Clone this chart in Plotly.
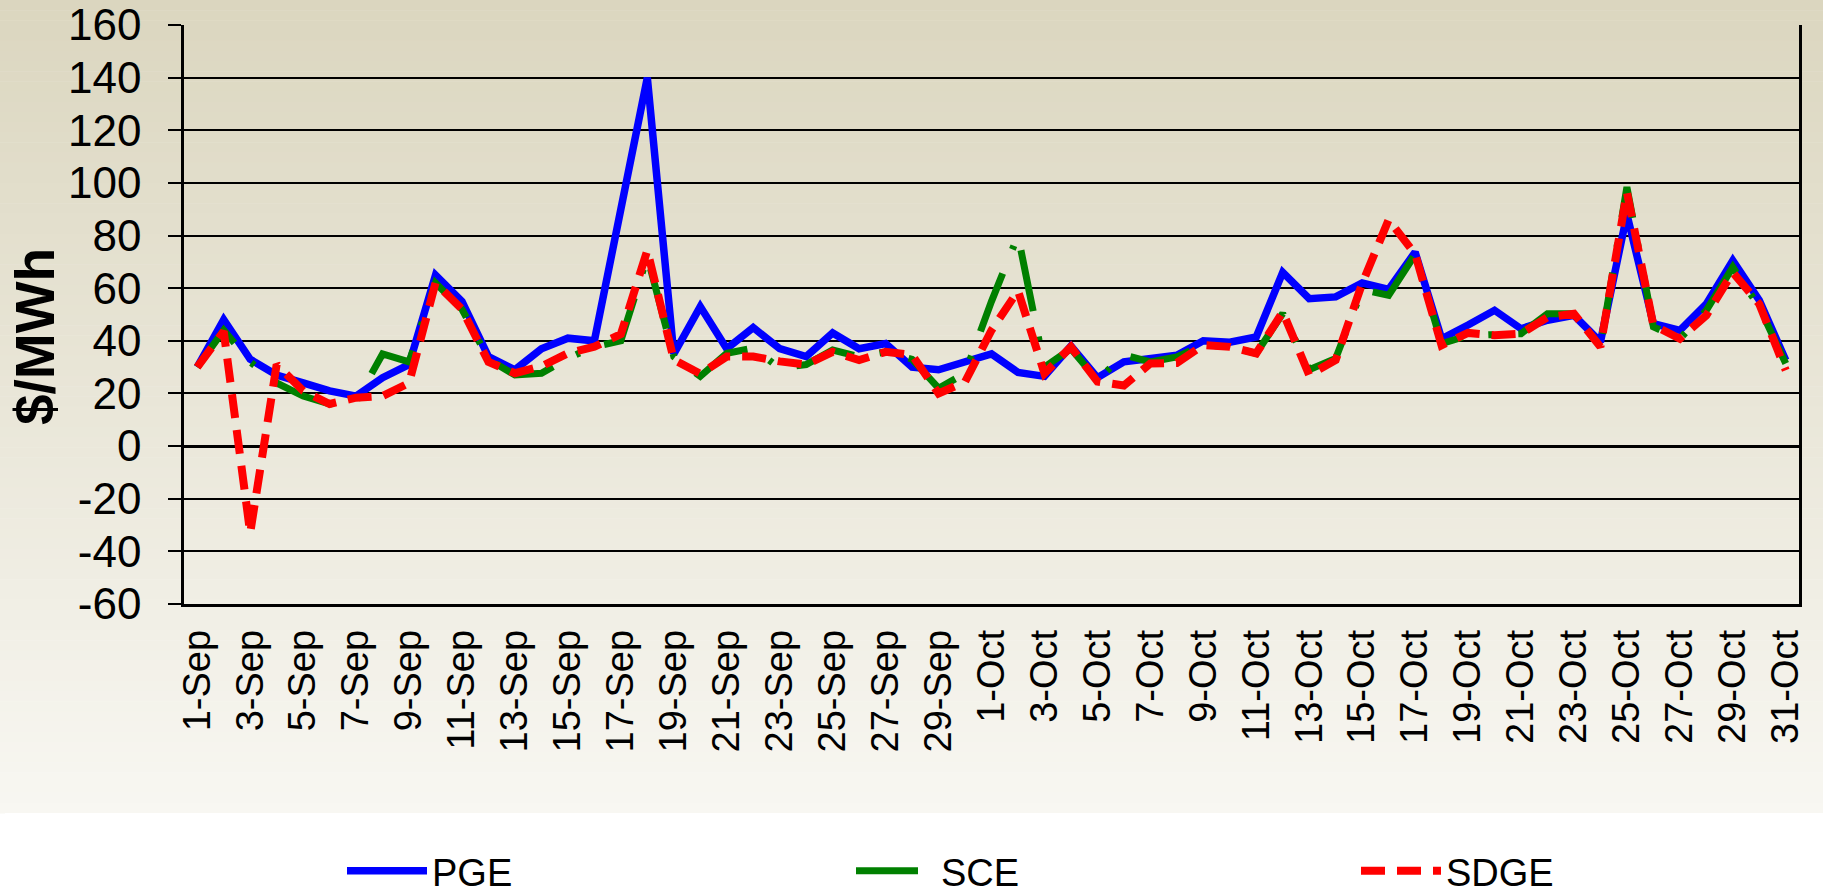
import plotly.graph_objects as go

# ---- data ----
sep_days = [f"{d}-Sep" for d in range(1, 31)]
oct_days = [f"{d}-Oct" for d in range(1, 32)]
categories = sep_days + oct_days

pge = [30, 48, 33, 27, 24, 21, 19, 26, 31, 65, 55, 34, 29, 37, 41, 40, 90, 140, 35, 53,
       37, 45, 37, 34, 43, 37, 39, 30, 29, 32,
       35, 28, 26.5, 38, 26, 32, 33, 34.5, 40, 39.5, 41.5, 66, 56, 56.7, 62, 59.5, 73.7, 40.8, 46, 51.6,
       44.6, 47.8, 49.7, 39.6, 88, 46.5, 44, 54, 70.5, 55.4, 32.6]
sce = [30, 44, 32, 24, 19, 16, 17, 35, 32, 62, 52, 33, 27, 27.7, 33.4, 37.8, 40, 72, 34, 26.5,
       35.3, 37.2, 29.6, 31, 36.5, 34, 35.8, 33, 22, 27.6,
       55, 80, 30, 37, 25, 34.6, 32, 33.9, 38.4, 37.7, 35.2, 50.4, 29, 33.3, 59.5, 57.3, 72.8, 38.9, 42, 42.1,
       42.7, 50.3, 50.3, 37.7, 98.4, 45.3, 40.8, 51.6, 68, 52.8, 31.4]
sdge = [30, 43.6, -33, 31, 21, 16, 18.4, 19, 24, 62, 52, 32, 27.7, 30.3, 35.3, 37.8, 42.5, 74.4, 32.8, 27.5,
        34, 34, 32.2, 31, 35.8, 32.7, 35.8, 34.6, 20, 24.4,
        44, 59, 27.6, 37.7, 24.5, 23, 31.4, 31.6, 38.4, 37.7, 35.2, 51, 27, 32.7, 61.8, 86, 73, 38.3, 43, 42.1,
        42.7, 49, 50.3, 37.7, 96.5, 45.9, 40.8, 49.7, 66, 54, 28.8]

series_names = ["PGE", "SCE", "SDGE"]
y_ticks = [-60, -40, -20, 0, 20, 40, 60, 80, 100, 120, 140, 160]
y_ticktext = [str(v) for v in y_ticks]

# ---- geometry (pixels) ----
W, H = 1823, 895
PL, PR, PT, PB = 184, 1799, 25, 604          # plot area
L, T = PL, PT
R, B = W - PR, H - PB
PW, PH = W - L - R, H - T - B


def wx(x):
    return (x - L) / PW


def wy(y):
    return (PB - y) / PH


FONT = "Liberation Sans, Arial, sans-serif"

fig = go.Figure()
fig.add_trace(go.Scatter(x=categories, y=pge, name=series_names[0], mode="lines",
                         line=dict(color="#0000FF", width=7.5), legend="legend"))
fig.add_trace(go.Scatter(x=categories, y=sce, name=series_names[1], mode="lines",
                         line=dict(color="#008000", width=7, dash="62px,26px,4px,26px"),
                         legend="legend2"))
fig.add_trace(go.Scatter(x=categories, y=sdge, name=series_names[2], mode="lines",
                         line=dict(color="#FF0000", width=8, dash="24px,12px"),
                         legend="legend3"))

# background gradient (decoration)
shapes = []
top_c = (219, 214, 191)
bot_c = (248, 247, 242)
grad_end = 813
n = 80
for k in range(n):
    y0 = grad_end * k / n
    y1 = grad_end * (k + 1) / n + 0.5
    t = (k + 0.5) / n
    c = tuple(round(top_c[j] + (bot_c[j] - top_c[j]) * t) for j in range(3))
    shapes.append(dict(type="rect", xref="paper", yref="paper", layer="below",
                       x0=wx(0), x1=wx(W), y0=wy(y1), y1=wy(y0),
                       line=dict(width=0), fillcolor=f"rgb{c}"))
shapes.append(dict(type="rect", xref="paper", yref="paper", layer="below",
                   x0=wx(5), x1=wx(W), y0=wy(H), y1=wy(grad_end),
                   line=dict(width=0), fillcolor="white"))

n_cat = len(categories)
major_bounds = [k - 0.5 for k in range(2, n_cat, 2)]
minor_bounds = [k - 0.5 for k in range(1, n_cat, 2)]


def leg(xpx):
    return dict(orientation="h", x=wx(xpx), y=wy(871), xanchor="left", yanchor="middle",
                font=dict(size=38, family=FONT, color="black"),
                bgcolor="rgba(0,0,0,0)", itemwidth=80)


fig.update_layout(
    width=W, height=H,
    margin=dict(l=L, r=R, t=T, b=B, autoexpand=False),
    paper_bgcolor="white",
    plot_bgcolor="rgba(0,0,0,0)",
    font=dict(family=FONT, color="black"),
    shapes=shapes,
    showlegend=True,
    legend=leg(342),
    legend2=leg(851),
    legend3=leg(1356),
    xaxis=dict(type="category", range=[-0.5, n_cat - 0.5], tickmode="array",
               tickvals=categories[::2], ticktext=categories[::2], tickangle=-90,
               ticks="", showgrid=False, zeroline=False, showline=True, automargin=False,
               linecolor="black", linewidth=2.5, tickfont=dict(size=38, family=FONT),
               ticklabelstandoff=8),
    xaxis2=dict(overlaying="x", anchor="free", position=60 / 220, side="bottom",
                type="linear", range=[-0.5, n_cat - 0.5], tickmode="array",
                tickvals=major_bounds, ticks="outside", ticklen=13, tickwidth=2,
                tickcolor="black", showticklabels=False, showgrid=False, zeroline=False,
                showline=False, automargin=False,
                minor=dict(tickvals=minor_bounds, ticks="outside", ticklen=9, tickwidth=2,
                           tickcolor="black", showgrid=False)),
    yaxis=dict(range=[-60, 160], tickmode="array", tickvals=y_ticks, ticktext=y_ticktext,
               automargin=False,
               showgrid=True, gridcolor="black", gridwidth=1.5,
               zeroline=True, zerolinecolor="black", zerolinewidth=3,
               showline=True, linecolor="black", linewidth=2.5, mirror=True,
               ticks="outside", ticklen=13, tickwidth=1.5, tickcolor="black",
               tickfont=dict(size=44, family=FONT), ticklabelstandoff=18),
    annotations=[dict(text="<b>$/MWh</b>", xref="paper", yref="paper",
                      x=wx(35), y=wy(337), xanchor="center", yanchor="middle",
                      textangle=-90, showarrow=False,
                      font=dict(size=55, family=FONT, color="black"))],
)

fig.write_html("out.html", config={"displayModeBar": False},
               post_script="document.body.style.margin='0';document.body.style.overflow='hidden';")
